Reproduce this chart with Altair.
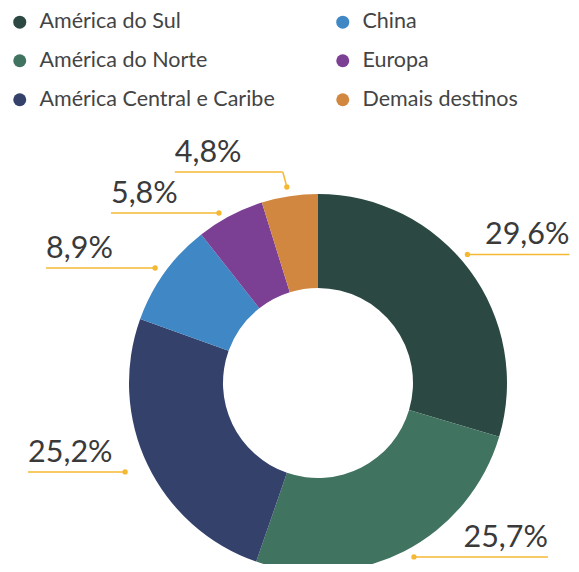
import math
import altair as alt
import pandas as pd

# ---- data ----
categories = ["América do Sul", "América do Norte", "América Central e Caribe",
              "China", "Europa", "Demais destinos"]
values = [29.6, 25.7, 25.2, 8.9, 5.8, 4.8]
labels = ["29,6%", "25,7%", "25,2%", "8,9%", "5,8%", "4,8%"]
colors = ["#2b4942", "#417361", "#33416b", "#3f87c5", "#7b3f94", "#d1873f"]

# ---- layout / style ----
W, H = 563, 556
R, R_IN = 189, 95
CX, CY = 310, 375
angle_nudge = [-4.0, -1.7, 0.8, -0.6, -2.5, -0.4]   # degrees
radius_mult = [1.043, 1.051, 1.124, 1.055, 1.041, 1.05]
line_len = [102, 134, 97, 109, 108, 108]            # px
elbow_dx = [0, 0, 0, 0, 0, -4]
elbow_rise = [0, 0, 0, 0, 0, 15]
side = ["right", "right", "left", "left", "left", "left"]
FONT = "Lato"
LEADER = "#f5b832"

df = pd.DataFrame({"cat": categories, "val": values, "ord": list(range(len(values)))})

total = sum(values)
rows = []
cum = 0.0
for i, v in enumerate(values):
    mid = (cum + v / 2) / total * 2 * math.pi + math.radians(angle_nudge[i])
    cum += v
    r = radius_mult[i]
    dx, dy = r * math.sin(mid), r * math.cos(mid)
    ex, ey = dx + elbow_dx[i] / R, dy + elbow_rise[i] / R
    sgn = 1 if side[i] == "right" else -1
    endx = ex + sgn * line_len[i] / R
    rows.append({"lab": labels[i], "dx": dx, "dy": dy, "ex": ex, "ey": ey,
                 "endx": endx, "side": side[i]})
ldf = pd.DataFrame(rows)

xs = alt.Scale(domain=[-CX / R, (W - CX) / R], nice=False, zero=False)
ys = alt.Scale(domain=[-(H - CY) / R, CY / R], nice=False, zero=False)

arc = alt.Chart(df).mark_arc(outerRadius=R, innerRadius=R_IN).encode(
    theta=alt.Theta("val:Q", stack=True),
    order=alt.Order("ord:Q"),
    color=alt.Color("cat:N",
                    scale=alt.Scale(domain=categories, range=colors),
                    legend=alt.Legend(orient="none", legendX=1, legendY=3, columns=2,
                                      columnPadding=57, rowPadding=16, title=None,
                                      symbolType="circle", symbolSize=169,
                                      symbolStrokeWidth=0, symbolOpacity=1,
                                      labelFont=FONT, labelFontSize=21.5,
                                      labelColor="#444444", labelOffset=9,
                                      labelLimit=400)),
    x=alt.X(datum=0, type="quantitative", scale=xs, axis=None),
    y=alt.Y(datum=0, type="quantitative", scale=ys, axis=None),
)

base = alt.Chart(ldf)
seg1 = base.mark_rule(color=LEADER, strokeWidth=1.5).encode(
    x=alt.X("dx:Q", scale=xs, axis=None), y=alt.Y("dy:Q", scale=ys, axis=None),
    x2="ex:Q", y2="ey:Q")
seg2 = base.mark_rule(color=LEADER, strokeWidth=1.5).encode(
    x=alt.X("ex:Q", scale=xs, axis=None), y=alt.Y("ey:Q", scale=ys, axis=None),
    x2="endx:Q", y2="ey:Q")
dots = base.mark_circle(color=LEADER, size=28, opacity=1).encode(
    x=alt.X("dx:Q", scale=xs, axis=None), y=alt.Y("dy:Q", scale=ys, axis=None))
txt_r = base.transform_filter(alt.datum.side == "right").mark_text(
    align="right", baseline="alphabetic", dy=-10, fontSize=30.5, font=FONT,
    color="#3a3a3a").encode(
    x=alt.X("endx:Q", scale=xs, axis=None), y=alt.Y("ey:Q", scale=ys, axis=None),
    text="lab:N")
txt_l = base.transform_filter(alt.datum.side == "left").mark_text(
    align="left", baseline="alphabetic", dy=-10, fontSize=30.5, font=FONT,
    color="#3a3a3a").encode(
    x=alt.X("endx:Q", scale=xs, axis=None), y=alt.Y("ey:Q", scale=ys, axis=None),
    text="lab:N")

chart = alt.layer(arc, seg1, seg2, dots, txt_r, txt_l).properties(
    width=W, height=H, padding=0, autosize=alt.AutoSizeParams(type="none")
).configure_view(stroke=None)

chart.save("out.html", embed_options={"renderer": "svg", "actions": False})
